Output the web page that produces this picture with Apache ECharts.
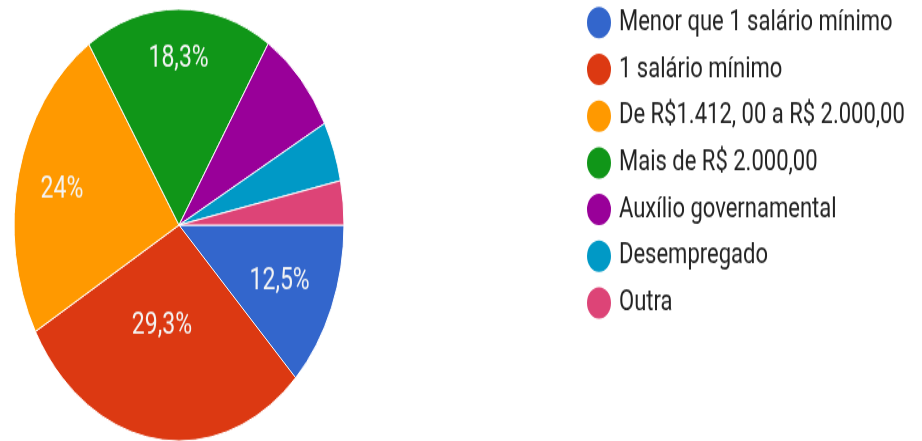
<!DOCTYPE html>
<html>
<head>
<meta charset="utf-8">
<script src="https://cdn.jsdelivr.net/npm/echarts@6/dist/echarts.min.js"></script>
<style>
  html { margin: 0; padding: 0; background: #fff; overflow: hidden; }
  body { margin: 0; padding: 0; width: 922px; height: 441px; background: #fff; }
  /* the chart is laid out on a shorter canvas and stretched vertically */
  #chart { width: 922px; height: 337px; transform: scaleY(1.3086); transform-origin: 0 0; }
</style>
</head>
<body>
<div id="chart"></div>
<script>
// Income categories and their shares (%)
const categories = [
  'Menor que 1 salário mínimo',
  '1 salário mínimo',
  'De R$1.412, 00 a R$ 2.000,00',
  'Mais de R$ 2.000,00',
  'Auxílio governamental',
  'Desempregado',
  'Outra'
];
const shares = [12.5, 29.3, 24, 18.3, 8.1, 4.5, 3.3];

// Presentation settings
const colors = ['#3366cc', '#dc3912', '#ff9900', '#109618', '#990099', '#0099c6', '#dd4477'];
const labelRadius = [0.66, 0.47, 0.73, 0.78, 0.6, 0.6, 0.6];
const labelAngleShift = [0, 5, 0, 0, 0, 0, 0]; // degrees
const pieCenter = [179, 172];
const pieRadius = 165;
const minLabelShare = 10;

const total = shares.reduce((a, b) => a + b, 0);
function midAngle(i) {
  let before = 0;
  for (let k = 0; k < i; k++) before += shares[k];
  return ((before + shares[i] / 2) / total) * 2 * Math.PI + labelAngleShift[i] * Math.PI / 180;
}

const chart = echarts.init(document.getElementById('chart'), null, { renderer: 'canvas' });
chart.setOption({
  animation: false,
  color: colors,
  legend: {
    orient: 'vertical',
    left: 585,
    top: 3.3,
    padding: 0,
    icon: 'circle',
    itemWidth: 26,
    itemHeight: 27,
    itemGap: 7.7,
    selectedMode: false,
    textStyle: { fontFamily: 'Roboto', fontSize: 22, color: '#222', padding: [0, 0, 0, 2] },
    data: categories
  },
  series: [{
    type: 'pie',
    center: pieCenter,
    radius: pieRadius,
    startAngle: 0,
    clockwise: true,
    avoidLabelOverlap: false,
    emphasis: { disabled: true },
    itemStyle: { borderColor: '#fff', borderWidth: 1 },
    label: {
      position: 'inside',
      fontFamily: 'Roboto',
      fontSize: 23,
      color: '#f4f4f4',
      formatter: p => p.value >= minLabelShare ? String(p.value).replace('.', ',') + '%' : ''
    },
    labelLine: { show: false },
    labelLayout: params => {
      const i = params.dataIndex;
      const a = midAngle(i);
      const r = labelRadius[i] * pieRadius;
      return { x: pieCenter[0] + r * Math.cos(a), y: pieCenter[1] + r * Math.sin(a) + 2 };
    },
    data: categories.map((name, i) => ({ name, value: shares[i] }))
  }]
});
</script>
</body>
</html>
